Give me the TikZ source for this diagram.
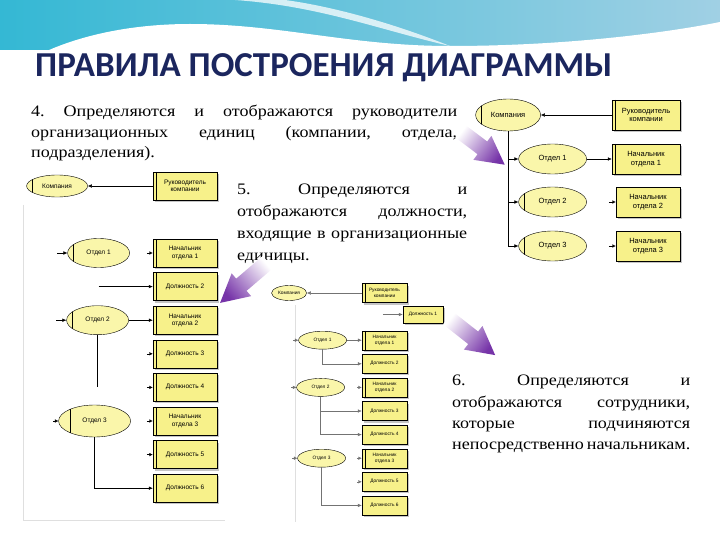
\documentclass[tikz,border=0pt]{standalone}
\usepackage{fontspec}
\setmainfont{Liberation Serif}
\setsansfont{Liberation Sans}
\newfontfamily\headfont{Carlito}
\newfontfamily\rulefont[FakeStretch=1.13]{Liberation Serif}
\usetikzlibrary{positioning,shapes.geometric,shadows,arrows.meta}

\definecolor{postfill}{RGB}{247,241,138}
\definecolor{unitfill}{RGB}{250,246,170}
\definecolor{titleblue}{RGB}{27,38,94}
\definecolor{pointer}{RGB}{118,52,168}
\definecolor{headcyan}{RGB}{52,184,212}
\definecolor{headblue}{RGB}{160,208,228}

\tikzset{
  unit/.style={draw, ellipse, fill=unitfill, inner sep=0pt},
  unitbar/.style={unit, path picture={\draw ([xshift=#1]path picture bounding box.north west) -- ([xshift=#1]path picture bounding box.south west);}},
  unitbar/.default=6pt,
  post/.style={draw, fill=postfill, align=center, inner sep=1pt, drop shadow={shadow xshift=2pt, shadow yshift=-2pt, fill=black!45}},
  chief/.style={post, path picture={\draw ([xshift=3.5pt]path picture bounding box.north west) -- ([xshift=3.5pt]path picture bounding box.south west);}},
  link/.style={-{Latex[length=4pt,width=3.5pt]}},
  stub/.style={-{Latex[length=3.5pt,width=3.5pt]}},
  rule/.style={inner sep=0pt, anchor=north west, align=left},
  pointer arrow/.style={left color=white, right color=pointer, shading angle=#1},
}

\begin{document}
\frenchspacing
\begin{tikzpicture}[x=1pt, y=-1pt]
\useasboundingbox (0,0) rectangle (720,540);

% header
\shade[left color=headcyan, right color=headblue] (0,0) rectangle (720,50);
\fill[white] (0,95) -- (0,80) .. controls (40,45) and (110,24) .. (190,24) .. controls (280,24) and (350,46) .. (450,46) .. controls (560,46) and (660,34) .. (720,22) -- (720,95) -- cycle;
\fill[white, opacity=.75] (235,0) .. controls (320,6) and (380,30) .. (450,46) .. controls (390,22) and (330,6) .. (285,0) -- cycle;
\node[font=\headfont\bfseries\fontsize{35}{38}\selectfont, text=titleblue, anchor=base west, inner sep=0pt] (title) at (35,77) {ПРАВИЛА ПОСТРОЕНИЯ ДИАГРАММЫ};

% rules
\node[rule, font=\rulefont\fontsize{16}{20.5}\selectfont] (rule4) at (31,105) {%
  \makebox[426pt][s]{4. Определяются и отображаются руководители}\\
  \makebox[426pt][s]{организационных единиц (компании, отдела,}\\
  подразделения).};
\node[rule, font=\rulefont\fontsize{16}{22}\selectfont] (rule5) at (237,184) {%
  \makebox[230pt][s]{5. Определяются и}\\
  \makebox[230pt][s]{отображаются должности,}\\
  \makebox[230pt][s]{входящие в организационные}\\
  единицы.};
\node[rule, font=\rulefont\fontsize{16}{21.3}\selectfont] (rule6) at (452,375) {%
  \makebox[238pt][s]{6. Определяются и}\\
  \makebox[238pt][s]{отображаются сотрудники,}\\
  \makebox[238pt][s]{которые подчиняются}\\
  \makebox[238pt][s]{непосредственно начальникам.}};

% company diagram
\begin{scope}[font=\sffamily\fontsize{7.5}{8.5}\selectfont, node distance=44pt,
  unit/.append style={minimum width=68pt, minimum height=30pt},
  post/.append style={minimum width=68pt, minimum height=30pt}]
\node[chief] (aRuk) at (646,115) {Руководитель\\компании};
\node[chief, below of=aRuk] (aNach1) {Начальник\\отдела 1};
\node[post, minimum width=64pt] (aNach2) at (648,202) {Начальник\\отдела 2};
\node[post, minimum width=64pt, below of=aNach2] (aNach3) {Начальник\\отдела 3};
\node[unitbar, minimum width=65pt, minimum height=32pt, left=71pt of aRuk] (aKomp) {Компания};
\node[unit, left=25pt of aNach1] (aOtd1) {Отдел 1};
\node[unitbar, left=29pt of aNach2] (aOtd2) {Отдел 2};
\node[unitbar, left=29pt of aNach3] (aOtd3) {Отдел 3};
\draw[link] (aRuk) -- (aKomp);
\draw[link] (aOtd1) -- (aNach1);
\foreach \n in {aOtd1,aOtd2,aOtd3} \draw[link] (aKomp) |- (\n);
\foreach \n in {aNach2,aNach3} {\coordinate (\n-in) at ([xshift=-7pt]\n.west); \draw[stub] (\n-in) -- (\n);}
\end{scope}

% department diagram
\draw[gray!25] (23,205) -- (23,520) -- (225,520);
\begin{scope}[font=\sffamily\fontsize{6.5}{7.5}\selectfont, node distance=33.6pt,
  unit/.append style={minimum width=62pt, minimum height=29pt},
  post/.append style={minimum width=64pt, minimum height=28pt}]
\node[chief] (bRuk) at (185,186) {Руководитель\\компании};
\node[chief, node distance=67pt, below of=bRuk] (bNach1) {Начальник\\отдела 1};
\node[chief, below of=bNach1] (bD2) {Должность 2};
\node[chief, below of=bD2] (bNach2) {Начальник\\отдела 2};
\node[chief, below of=bNach2] (bD3) {Должность 3};
\node[chief, below of=bD3] (bD4) {Должность 4};
\node[chief, below of=bD4] (bNach3) {Начальник\\отдела 3};
\node[chief, below of=bNach3] (bD5) {Должность 5};
\node[chief, below of=bD5] (bD6) {Должность 6};
\node[unitbar, minimum width=61pt, minimum height=22pt, left=65pt of bRuk] (bKomp) {Компания};
\node[unitbar, left=23pt of bNach1] (bOtd1) {Отдел 1};
\node[unitbar, left=24pt of bNach2] (bOtd2) {Отдел 2};
\node[unitbar=12pt, minimum width=72pt, minimum height=32pt, left=22pt of bNach3] (bOtd3) {Отдел 3};
\draw[link] (bRuk) -- (bKomp);
\draw[link] (bOtd2) -- (bNach2);
\coordinate (bL2) at (bOtd1 |- bD2);
\draw[link] (bL2) -- (bD2);
\coordinate (bEnd) at (bOtd2 |- bD4);
\draw (bOtd2) -- (bEnd);
\draw[link] (bOtd3) |- (bD6);
\foreach \n in {bOtd1,bOtd2} {\coordinate (\n-in) at ([xshift=-10pt]\n.west); \draw[link] (\n-in) -- (\n);}
\coordinate (bOtd3-in) at ([xshift=-5pt]bOtd3.west); \draw[stub] (bOtd3-in) -- (bOtd3);
\foreach \n in {bNach1,bD3,bD4,bNach3,bD5} {\coordinate (\n-in) at ([xshift=-6pt]\n.west); \draw[stub] (\n-in) -- (\n);}
\end{scope}

% staff diagram
\draw[gray!25] (295,305) -- (295,522);
\begin{scope}[font=\sffamily\fontsize{4.8}{5.6}\selectfont, node distance=23.6pt,
  unit/.append style={minimum width=48pt, minimum height=18pt},
  post/.append style={minimum width=45pt, minimum height=19pt},
  link/.append style={gray!90!black}, stub/.append style={gray!90!black}]
\node[chief] (cRuk) at (384.5,293) {Руководитель\\компании};
\node[post, minimum width=40pt, minimum height=17pt] (cD1) at (423,314.5) {Должность 1};
\node[chief, node distance=47.2pt, below of=cRuk] (cNach1) {Начальник\\отдела 1};
\node[post, below of=cNach1] (cD2) {Должность 2};
\node[chief, below of=cD2] (cNach2) {Начальник\\отдела 2};
\node[post, below of=cNach2] (cD3) {Должность 3};
\node[post, below of=cD3] (cD4) {Должность 4};
\node[chief, below of=cD4] (cNach3) {Начальник\\отдела 3};
\node[post, below of=cNach3] (cD5) {Должность 5};
\node[post, below of=cD5] (cD6) {Должность 6};
\node[unit, minimum width=35pt, minimum height=15pt, left=55pt of cRuk] (cKomp) {Компания};
\node[unit, left=15pt of cNach1] (cOtd1) {Отдел 1};
\node[unit, left=17pt of cNach2] (cOtd2) {Отдел 2};
\node[unit, left=16pt of cNach3] (cOtd3) {Отдел 3};
\draw[link] (cRuk) -- (cKomp);
\coordinate (cL1) at ([xshift=-20pt]cD1.west);
\draw[link] (cL1) -- (cD1);
\draw[link] (cOtd1) -- (cNach1);
\draw[link] (cOtd1) |- (cD2);
\draw[link] (cOtd2) |- (cD3);
\draw[link] (cOtd2) |- (cD4);
\draw[link] (cOtd3) |- (cD6);
\foreach \n in {cOtd1,cOtd2,cOtd3,cNach2,cNach3,cD5} {\coordinate (\n-in) at ([xshift=-5pt]\n.west); \draw[stub] (\n-in) -- (\n);}
\end{scope}

% pointers from rules to diagrams
\foreach \x/\y/\ang/\shang/\len in {460/131/-37/53/56, 268/262/-139.5/-49.5/63, 448/318/-38.2/51.8/60} {
  \begin{scope}[shift={(\x,\y)}, rotate=\ang]
    \shade[pointer arrow=\shang] (0,-8) -- (\len-28,-8) -- (\len-28,-15) -- (\len,0) -- (\len-28,15) -- (\len-28,8) -- (0,8) -- cycle;
  \end{scope}
}
\end{tikzpicture}
\end{document}
